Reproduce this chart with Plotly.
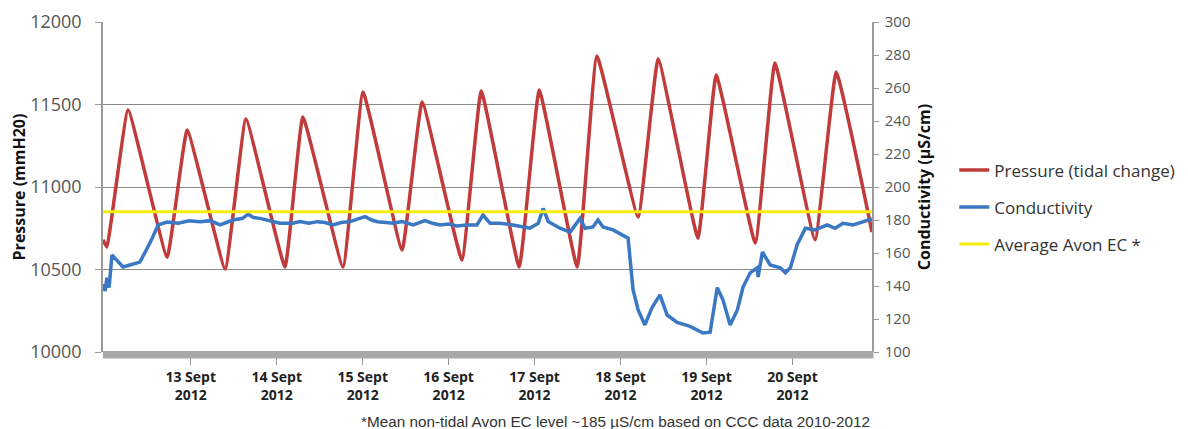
import pandas as pd
import plotly.graph_objects as go

# Series start (hours are counted from this moment)
START = pd.Timestamp("2012-09-12 00:00")

# Pressure (tidal change), mmH20 — turning points of the tidal record
pressure_hours = [-0.5, 0.6, 6.5, 17.4, 23.0, 33.6, 39.4, 50.3, 55.3, 66.5, 72.1,
                  83.0, 88.6, 99.7, 105.1, 115.7, 121.3, 131.9, 137.4, 148.9, 154.5,
                  165.6, 170.7, 181.6, 187.1, 198.3, 204.2, 214.2]
pressure_values = [10680, 10636, 11467, 10575, 11345, 10503, 11412, 10515, 11424, 10515, 11576,
                   10618, 11515, 10558, 11582, 10515, 11588, 10515, 11794, 10818, 11776,
                   10690, 11679, 10660, 11751, 10680, 11697, 10727]

# Conductivity, µS/cm
cond_hours = [-0.5, 0.1, 0.6, 1.2, 2.0, 3.7, 5.1, 7.0, 9.8, 12.6, 14.9, 17.4, 20.5, 23.5,
              26.6, 29.4, 32.2, 35.8, 38.5, 40.0, 41.5, 43.3, 46.0, 48.9, 52.5, 54.5,
              57.0, 59.3, 61.5, 63.7, 66.0, 68.5, 70.5, 72.7, 74.5, 76.1, 78.5,
              80.5, 83.0, 86.1, 89.4, 91.5, 93.6, 96.0, 98.3, 101.0, 103.9, 105.6,
              107.6, 110.4, 114.0, 118.7, 121.0, 122.4, 123.8, 127.1, 129.9, 132.7,
              134.1, 136.3, 137.7, 139.1, 141.9, 144.4, 146.1, 146.6, 147.5, 148.9,
              150.8, 152.8, 153.6, 155.0, 157.0, 159.8, 163.4, 167.0, 169.0, 171.0,
              172.6, 174.6, 176.6, 178.2, 180.2, 182.1, 182.4, 183.6, 185.8, 188.6,
              190.0, 191.4, 193.3, 195.6, 198.3, 201.7, 203.9, 206.1, 208.9, 212.8, 214.2]
cond_values = [141, 137, 145, 139, 158.8, 155, 151.5, 152.7, 154.5, 166, 177, 178.8, 178, 179.5,
               179, 179.6, 177, 180, 181, 183.5, 181.5, 181, 179.5, 178, 178, 179,
               178, 179, 178.5, 177, 178.5, 179, 180.5, 182, 180, 179, 178.5,
               178, 179, 177, 179.6, 178, 177, 177.5, 176.4, 177, 177, 183,
               178, 178, 177, 175, 178, 187, 179, 175, 172.7, 181,
               175, 175.8, 180, 175.8, 174, 171, 169, 157.6, 137.6, 125.5,
               116.4, 127, 130, 134.6, 122.4, 118, 115.5, 111.5, 112, 139,
               131.5, 116.4, 125.5, 139.4, 148, 151, 145.5, 160.6, 152.7, 151,
               148, 151, 165, 175, 174, 177, 175, 178, 177, 180, 180.6]

# Mean non-tidal Avon EC level
avon_ec = 185
avon_hours = [-0.5, 214.2]

# Date ticks
tick_days = ["2012-09-13", "2012-09-14", "2012-09-15", "2012-09-16",
             "2012-09-17", "2012-09-18", "2012-09-19", "2012-09-20"]
tick_labels = ["13 Sept<br>2012", "14 Sept<br>2012", "15 Sept<br>2012", "16 Sept<br>2012",
               "17 Sept<br>2012", "18 Sept<br>2012", "19 Sept<br>2012", "20 Sept<br>2012"]


def to_time(hours):
    return [START + pd.Timedelta(hours=h) for h in hours]


RED = "#C23B3B"
BLUE = "#3A78C4"
YELLOW = "#F7EC0C"
GRID = "#8A8A8A"
AXIS = "#9A9A9A"
FONT = "Open Sans"

fig = go.Figure()
fig.add_trace(go.Scatter(
    x=to_time(pressure_hours), y=pressure_values, mode="lines",
    name="Pressure (tidal change)", legendgroup="p",
    line=dict(color=RED, width=3.5, shape="spline", smoothing=0.3), yaxis="y"))
fig.add_trace(go.Scatter(
    x=to_time(cond_hours), y=cond_values, mode="lines",
    name="Conductivity", legendgroup="c",
    line=dict(color=BLUE, width=3.5), yaxis="y2"))
fig.add_trace(go.Scatter(
    x=to_time(avon_hours), y=[avon_ec] * len(avon_hours), mode="lines",
    name="Average Avon EC *", legendgroup="a",
    line=dict(color=YELLOW, width=3), yaxis="y2"))

x_range = [START + pd.Timedelta(hours=avon_hours[0]), START + pd.Timedelta(hours=avon_hours[-1])]

fig.update_layout(
    width=1188, height=429,
    margin=dict(l=103, r=316, t=22, b=77, autoexpand=False),
    paper_bgcolor="white", plot_bgcolor="white",
    font=dict(family=FONT, color="#333333"),
    showlegend=True,
    legend=dict(x=1.107, xanchor="left", y=0.605, yanchor="top",
                font=dict(family=FONT, size=17, color="#333333"),
                tracegroupgap=12, bgcolor="rgba(0,0,0,0)"),
    xaxis=dict(
        type="date", range=x_range,
        tickvals=[pd.Timestamp(d) for d in tick_days], ticktext=tick_labels,
        ticks="outside", ticklen=12, tickcolor=AXIS, tickwidth=1,
        tickfont=dict(family=FONT, size=14, color="#222222", weight="bold"),
        showgrid=False, showline=False, zeroline=False, automargin=False),
    yaxis=dict(
        range=[10000, 12000], dtick=500, tick0=10000, tickformat="d",
        ticks="outside", ticklen=6, tickcolor=AXIS, ticklabelstandoff=10,
        tickfont=dict(family=FONT, size=18, color="#555555"),
        showgrid=True, gridcolor=GRID, gridwidth=1,
        showline=True, linecolor=AXIS, linewidth=1.5, zeroline=False,
        title=dict(text="Pressure (mmH20)", standoff=1,
                   font=dict(family=FONT, size=16, color="#111111", weight="bold")),
        automargin=False),
    yaxis2=dict(
        range=[100, 300], dtick=20, tick0=100, overlaying="y", side="right",
        ticks="outside", ticklen=5, tickcolor=AXIS, ticklabelstandoff=3,
        tickfont=dict(family=FONT, size=15, color="#555555"),
        showgrid=False, showline=True, linecolor=AXIS, linewidth=1.5, zeroline=False,
        title=dict(text="Conductivity (µS/cm)", standoff=9,
                   font=dict(family=FONT, size=16, color="#111111", weight="bold")),
        automargin=False),
)

# Grey floor band along the bottom of the plot area
fig.add_shape(type="rect", xref="paper", yref="paper",
              x0=0, x1=1.002, y0=-6.5 / 330, y1=1 / 330,
              fillcolor="#A8A8A8", line=dict(width=0), layer="above")

fig.add_annotation(
    text="*Mean non-tidal Avon EC level ~185 µS/cm based on CCC data 2010-2012",
    xref="paper", yref="paper", x=1.0, y=-0.21, xanchor="right", yanchor="middle",
    showarrow=False, font=dict(family="Liberation Sans", size=15.3, color="#333333"))

fig.write_html("out.html")
